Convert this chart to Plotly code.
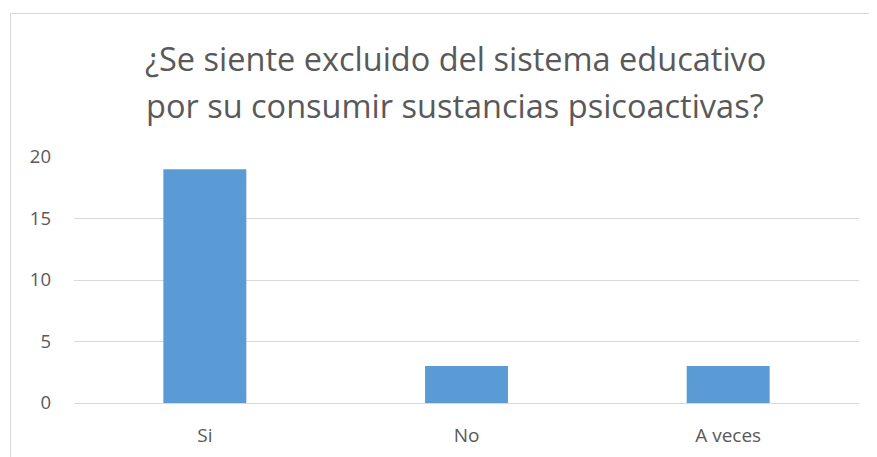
import plotly.graph_objects as go

categories = ["Si", "No", "A veces"]
values = [19, 3, 3]
y_ticks = [0, 5, 10, 15, 20]
title_lines = ["¿Se siente excluido del sistema educativo", "por su consumir sustancias psicoactivas?"]

# page body has an 8px margin, so compensate
OFF = 8
W, H = 877, 457
L, T = 74 - OFF, 157 - OFF
pw, ph = 785, 246
R, B = W - L - pw, H - T - ph

def px_x(x):
    return (x - OFF - L) / pw

def px_y(y):
    return (T + ph - (y - OFF)) / ph

fig = go.Figure(go.Bar(
    x=categories, y=values,
    marker=dict(color="#5B9BD5", line=dict(width=0)),
    width=0.317,
))

FONT = "Open Sans, Noto Sans, sans-serif"

fig.update_layout(
    width=W, height=H,
    margin=dict(l=L, r=R, t=T, b=B),
    paper_bgcolor="white", plot_bgcolor="white",
    showlegend=False,
    font=dict(family=FONT, color="#595959", size=18),
    xaxis=dict(showgrid=False, showline=False, ticks="", tickfont=dict(size=19, color="#595959"),
               ticklabelstandoff=19, range=[-0.5, 2.5]),
    yaxis=dict(range=[0, 20], tickvals=y_ticks, showgrid=True, gridcolor="#D9D9D9", gridwidth=1,
               zeroline=True, zerolinecolor="#D9D9D9", zerolinewidth=1, showline=False, ticks="",
               tickfont=dict(size=18.5, color="#595959"), ticklabelstandoff=22),
    shapes=[dict(type="rect", xref="paper", yref="paper",
                 x0=px_x(10.5), x1=px_x(900), y0=px_y(480), y1=px_y(13.5),
                 line=dict(color="#D9D9D9", width=1), fillcolor="rgba(0,0,0,0)", layer="below")],
    annotations=[
        dict(text=title_lines[0], xref="paper", yref="paper", x=px_x(455), y=px_y(58),
             xanchor="center", yanchor="middle", showarrow=False,
             font=dict(family=FONT, size=32.5, color="#595959")),
        dict(text=title_lines[1], xref="paper", yref="paper", x=px_x(455), y=px_y(105),
             xanchor="center", yanchor="middle", showarrow=False,
             font=dict(family=FONT, size=32.5, color="#595959")),
    ],
)

fig.write_html("out.html")
